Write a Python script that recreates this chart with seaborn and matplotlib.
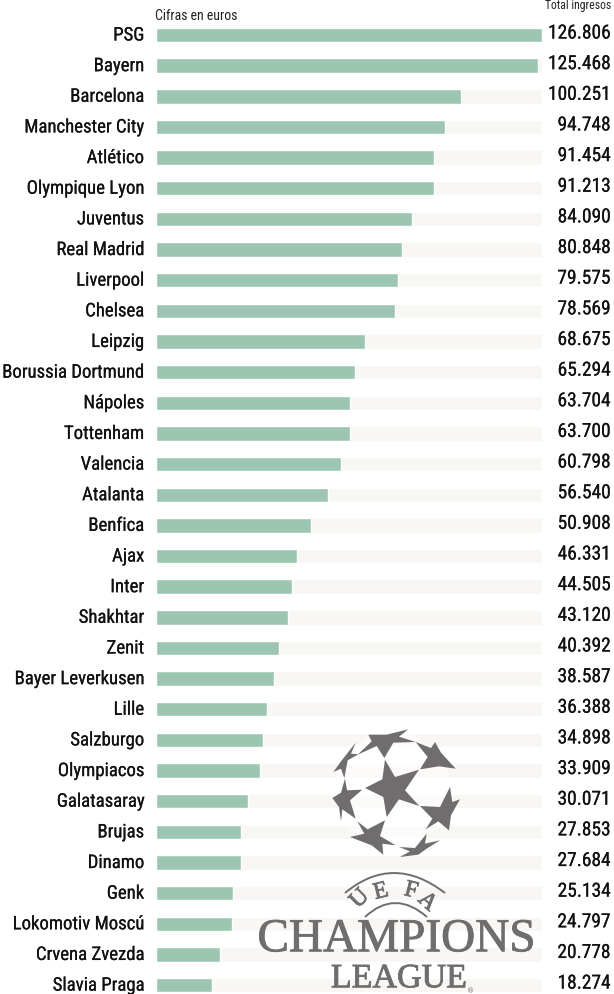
import pandas as pd
import matplotlib.pyplot as plt
import matplotlib.transforms as mtrans
import matplotlib.patheffects as pe
import seaborn as sns
from matplotlib.path import Path
from matplotlib.patches import Polygon, Circle, PathPatch

equipos = ['PSG', 'Bayern', 'Barcelona', 'Manchester City', 'Atlético', 'Olympique Lyon',
           'Juventus', 'Real Madrid', 'Liverpool', 'Chelsea', 'Leipzig', 'Borussia Dortmund',
           'Nápoles', 'Tottenham', 'Valencia', 'Atalanta', 'Benfica', 'Ajax', 'Inter',
           'Shakhtar', 'Zenit', 'Bayer Leverkusen', 'Lille', 'Salzburgo', 'Olympiacos',
           'Galatasaray', 'Brujas', 'Dinamo', 'Genk', 'Lokomotiv Moscú', 'Crvena Zvezda',
           'Slavia Praga']
ingresos = [126806, 125468, 100251, 94748, 91454, 91213, 84090, 80848, 79575, 78569,
            68675, 65294, 63704, 63700, 60798, 56540, 50908, 46331, 44505, 43120,
            40392, 38587, 36388, 34898, 33909, 30071, 27853, 27684, 25134, 24797,
            20778, 18274]

sns.set_theme(style='white')
fuente = ['Roboto Condensed', 'Lato', 'DejaVu Sans']
plt.rcParams['font.family'] = fuente

data = pd.DataFrame({'equipo': equipos, 'ingresos': ingresos})
data['fondo'] = data['ingresos'].max()

fig = plt.figure(figsize=(6.14, 9.94), dpi=100)
ax = fig.add_axes([156.4/614, 0, 385.6/614, 1])

sns.barplot(data=data, x='fondo', y='equipo', color='#f8f7f4', saturation=1, width=0.47, ax=ax)
sns.barplot(data=data, x='ingresos', y='equipo', color='#9cc6b1', saturation=1, width=0.47, ax=ax)

ax.set_xlim(0, data['ingresos'].max())
ax.set_ylim(31.29, -1.142)
ax.set_xlabel('')
ax.set_ylabel('')
ax.set_xticks([])
ax.tick_params(axis='y', length=0, pad=8.8, labelsize=13.5, labelcolor='#111111')
sns.despine(ax=ax, left=True, bottom=True)

# texts sit a bit above the bar centres, and print a little heavier than the regular cut
arriba = mtrans.ScaledTranslation(0, 1.5/100, fig.dpi_scale_trans)
medio = [pe.withStroke(linewidth=0.12, foreground='#111111')]
for lab in ax.get_yticklabels():
    lab.set_transform(lab.get_transform() + arriba)
    lab.set_path_effects(medio)

trans = ax.get_yaxis_transform() + arriba
for i, v in enumerate(data['ingresos']):
    ax.text(454.6/385.6, i, f'{v:,}'.replace(',', '.'), transform=trans, ha='right', va='center',
            fontsize=14, color='#111111', path_effects=medio)

fig.text(155/614, 1 - 16/994, 'Cifras en euros', ha='left', va='center', fontsize=10, color='#222222')
fig.text(611/614, 1 - 5/994, 'Total ingresos', ha='right', va='center', fontsize=8.5, color='#222222')

logo = fig.add_axes([0, 0, 1, 1])
logo.set_xlim(0, 614)
logo.set_ylim(994, 0)
logo.axis('off')
logo.patch.set_alpha(0)

gris = '#6f6d6d'
estrellas = [
    [(180,113),(210,165),(282,143),(240,205),(283,252),(222,232),(185,285),(175,225),(120,198),(172,172)],
    [(130,38),(185,38),(250,22),(222,44),(272,60),(205,62),(178,108),(155,72),(98,98),(140,58)],
    [(272,60),(318,78),(330,60),(348,92),(392,140),(342,133),(285,142),(308,105)],
    [(375,195),(382,240),(405,232),(378,280),(372,325),(340,298),(302,322),(322,290),(285,252),(345,255)],
    [(97,298),(128,322),(180,295),(165,342),(212,370),(172,365),(175,398),(140,370),(75,345),(118,335)],
    [(222,375),(270,378),(305,335),(300,365),(345,355),(305,380),(280,398),(225,405),(255,388)],
    [(60,170),(66,205),(112,203),(75,235),(92,290),(52,262),(48,298),(42,255),(22,228),(48,212)],
    [(92,62),(78,95),(100,97),(68,115),(58,168),(48,140),(25,150),(48,118)],
]
logo.add_patch(Circle((393, 790), 58, color='white', alpha=0.6, lw=0))
for e in estrellas:
    puntos = [(325 + x/3, 722 + y/3) for x, y in e]
    logo.add_patch(Polygon(puntos, closed=True, color=gris, lw=0))

serif = ['Liberation Serif', 'DejaVu Serif']
grueso = [pe.withStroke(linewidth=0.6, foreground=gris)]
logo.text(396.5, 940, 'CHAMPIONS', ha='center', va='center', fontsize=34, color=gris,
          family=serif, path_effects=grueso)
logo.text(399, 979, 'LEAGUE', ha='center', va='center', fontsize=24.5, color=gris,
          family=serif, path_effects=grueso)
logo.text(471, 991, '®', ha='center', va='center', fontsize=5, color=gris, family=['DejaVu Sans'])

for letra, x, y, rot in [('U', 360, 899, 45), ('E', 381, 892, 14), ('F', 411, 891, -14), ('A', 427, 902, -42)]:
    logo.text(x, y, letra, ha='center', va='center', rotation=rot, fontsize=17, color=gris,
              family=serif, path_effects=grueso)

for a, b, c in [((345, 893), (393, 853), (445, 893)), ((365, 917), (395, 889), (427, 917))]:
    arco = Path([a, b, c], [Path.MOVETO, Path.CURVE3, Path.CURVE3])
    logo.add_patch(PathPatch(arco, fc='none', ec=gris, lw=1.4))

fig.savefig('out.png', dpi=100)
